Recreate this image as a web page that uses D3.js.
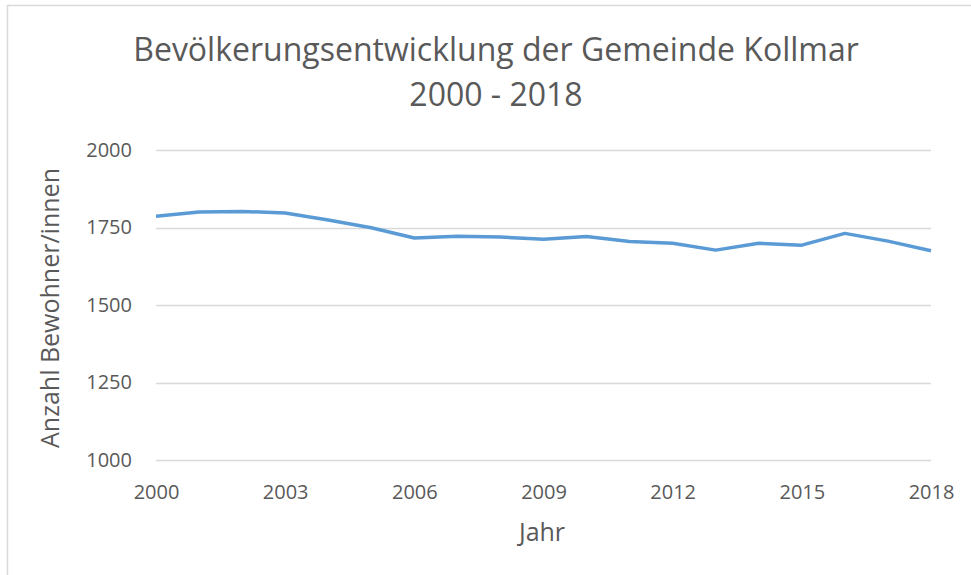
<!DOCTYPE html>
<html>
<head>
<meta charset="utf-8">
<script src="https://cdn.jsdelivr.net/npm/d3@7"></script>
<style>
  body { margin: 0; background: #fff; }
  text { font-family: "Open Sans", "Noto Sans", sans-serif; fill: #595959; }
</style>
</head>
<body>
<div id="chart"></div>
<script>
// data
const years = [2000, 2001, 2002, 2003, 2004, 2005, 2006, 2007, 2008, 2009,
               2010, 2011, 2012, 2013, 2014, 2015, 2016, 2017, 2018];
const residents = [1786, 1800, 1802, 1797, 1774, 1749, 1716, 1722, 1719, 1712,
                   1721, 1705, 1699, 1677, 1699, 1693, 1731, 1706, 1675];
const yTicks = [1000, 1250, 1500, 1750, 2000];
const xTicks = [2000, 2003, 2006, 2009, 2012, 2015, 2018];

const width = 971;
const height = 575;
const margin = { top: 150, right: 40, bottom: 115, left: 156 };

const svg = d3.select('#chart').append('svg')
  .attr('width', width)
  .attr('height', height);

// outer chart frame (runs off the right and bottom edge)
svg.append('rect')
  .attr('x', 7.5).attr('y', 5.5)
  .attr('width', width + 10).attr('height', height + 10)
  .attr('fill', 'none')
  .attr('stroke', '#d9d9d9')
  .attr('stroke-width', 1.5);

const xScale = d3.scaleLinear()
  .domain([2000, 2018])
  .range([margin.left, width - margin.right]);

const yScale = d3.scaleLinear()
  .domain([1000, 2000])
  .range([height - margin.bottom, margin.top]);

// gridlines
svg.append('g')
  .selectAll('line')
  .data(yTicks)
  .enter().append('line')
  .attr('x1', margin.left)
  .attr('x2', width - margin.right)
  .attr('y1', d => Math.round(yScale(d)) + 0.5)
  .attr('y2', d => Math.round(yScale(d)) + 0.5)
  .attr('stroke', '#d9d9d9')
  .attr('stroke-width', 1.3);

// y axis labels
const yAxis = d3.axisLeft(yScale).tickValues(yTicks).tickFormat(d3.format('d')).tickSize(0).tickPadding(24);
svg.append('g')
  .attr('transform', `translate(${margin.left},0)`)
  .call(yAxis)
  .call(g => g.select('.domain').remove())
  .selectAll('text')
  .attr('font-size', '20px')
  .attr('fill', '#595959');

// x axis labels
const xAxis = d3.axisBottom(xScale).tickValues(xTicks).tickFormat(d3.format('d')).tickSize(0).tickPadding(25);
svg.append('g')
  .attr('transform', `translate(0,${height - margin.bottom})`)
  .call(xAxis)
  .call(g => g.select('.domain').remove())
  .selectAll('text')
  .attr('font-size', '20px')
  .attr('fill', '#595959');

// the line
const line = d3.line()
  .x((d, i) => xScale(years[i]))
  .y(d => yScale(d));

svg.append('path')
  .datum(residents)
  .attr('d', line)
  .attr('fill', 'none')
  .attr('stroke', '#5b9bd5')
  .attr('stroke-width', 3.5)
  .attr('stroke-linejoin', 'round');

// title
svg.append('text')
  .attr('x', 496).attr('y', 61)
  .attr('text-anchor', 'middle')
  .attr('font-size', '32px')
  .text('Bevölkerungsentwicklung der Gemeinde Kollmar');
svg.append('text')
  .attr('x', 496).attr('y', 106)
  .attr('text-anchor', 'middle')
  .attr('font-size', '32px')
  .text('2000 - 2018');

// axis titles
svg.append('text')
  .attr('x', 542).attr('y', 541)
  .attr('text-anchor', 'middle')
  .attr('font-size', '25px')
  .text('Jahr');

svg.append('text')
  .attr('transform', 'translate(59,308) rotate(-90)')
  .attr('text-anchor', 'middle')
  .attr('font-size', '25px')
  .text('Anzahl Bewohner/innen');
</script>
</body>
</html>
